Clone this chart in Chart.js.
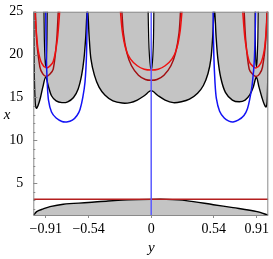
<!DOCTYPE html>
<html>
<head>
<meta charset="utf-8">
<script src="https://cdn.jsdelivr.net/npm/chart.js@4.4.1/dist/chart.umd.min.js"></script>
<style>
  body { margin: 0; background: #fff; }
</style>
</head>
<body>
<canvas id="c" width="273" height="259"></canvas>
<script>
// axis ticks
const xTicks = [-0.91, -0.54, 0, 0.54, 0.91];
const xTickLabels = ['\u22120.91', '\u22120.54', '0', '0.54', '0.91'];
const yTicks = [5, 10, 15, 20, 25];

// upper black boundary of the shaded band, [y, x] pairs
const upperBoundary = [
  [-1.013, 25.5], [-1.009, 18], [-1.0, 14.3], [-0.99, 13.75], [-0.975, 14.1], [-0.955, 15.0],
  [-0.935, 16.2], [-0.91, 17.4], [-0.885, 16.2], [-0.86, 15.2], [-0.82, 14.6], [-0.77, 14.4],
  [-0.72, 14.5], [-0.67, 15.0], [-0.63, 16.0], [-0.6, 17.6], [-0.58, 19.5], [-0.565, 22],
  [-0.55, 25.5], [-0.535, 22], [-0.52, 19.5], [-0.49, 17.6], [-0.45, 16.2], [-0.4, 15.3],
  [-0.33, 14.6], [-0.25, 14.35], [-0.18, 14.4], [-0.12, 14.7], [-0.06, 15.2], [0, 15.8],
  [0.06, 15.2], [0.12, 14.7], [0.19, 14.4], [0.26, 14.5], [0.33, 14.8], [0.4, 15.5],
  [0.45, 16.4], [0.49, 17.8], [0.515, 19.5], [0.53, 22], [0.545, 25.5], [0.56, 22],
  [0.575, 19.5], [0.6, 17.3], [0.64, 15.6], [0.7, 14.7], [0.76, 14.5], [0.81, 14.7],
  [0.85, 15.3], [0.88, 16.2], [0.907, 17.4], [0.93, 16.2], [0.955, 15.0], [0.975, 14.2],
  [0.99, 13.9], [1.0, 14.5], [1.006, 18], [1.01, 25.5]
];
// narrow unshaded slits
const slitLeft = [[-0.925, 25.5], [-0.922, 22], [-0.916, 19.5], [-0.909, 18.6], [-0.903, 19.5], [-0.899, 22], [-0.897, 25.5]];
const slitCenter = [[-0.027, 25.5], [-0.022, 22], [-0.015, 19.8], [-0.006, 18.5], [0, 18.25], [0.006, 18.5], [0.014, 19.8], [0.02, 22], [0.023, 25.5]];
const slitRight = [[0.896, 25.5], [0.898, 22], [0.902, 19.5], [0.908, 18.6], [0.914, 19.5], [0.92, 22], [0.923, 25.5]];

// lower black boundary
const lowerBoundary = [
  [-1.017, 1.23], [-0.988, 1.7], [-0.931, 2.01], [-0.873, 2.28], [-0.758, 2.56], [-0.543, 2.75],
  [-0.373, 2.94], [-0.2, 3.06], [0, 3.12], [0.13, 3.12], [0.3, 2.98], [0.536, 2.5],
  [0.706, 2.16], [0.913, 1.7], [1.01, 1.28]
];

// blue curves
const blueLeft = [
  [-0.91, 25.5], [-0.905, 20], [-0.896, 16.5], [-0.886, 14.7], [-0.86, 13.3], [-0.82, 12.6],
  [-0.77, 12.2], [-0.729, 12.15], [-0.68, 12.35], [-0.64, 12.9], [-0.614, 13.6], [-0.59, 15],
  [-0.571, 16.8], [-0.558, 20], [-0.551, 25.5]
];
const blueRight = [
  [0.533, 25.5], [0.54, 20], [0.55, 16.8], [0.562, 14.9], [0.59, 13.4], [0.63, 12.6],
  [0.67, 12.25], [0.706, 12.15], [0.75, 12.35], [0.8, 12.9], [0.83, 13.7], [0.85, 14.8],
  [0.872, 16.6], [0.89, 19.5], [0.902, 25.5]
];
const blueCenter = [[0, 1.2], [0, 25.5]];

// bright red curves
const redLeft = [
  [-1.005, 25.5], [-0.99, 22.5], [-0.975, 20.5], [-0.945, 19.0], [-0.905, 18.45],
  [-0.875, 18.65], [-0.845, 19.2], [-0.81, 21.7], [-0.787, 25.5]
];
const redCenter = [
  [-0.268, 25.5], [-0.25, 22.8], [-0.22, 20.7], [-0.18, 19.5], [-0.12, 18.7], [-0.06, 18.3],
  [0, 18.2], [0.06, 18.3], [0.12, 18.7], [0.18, 19.5], [0.22, 20.7], [0.25, 22.8], [0.268, 25.5]
];
const redRight = [
  [0.787, 25.5], [0.81, 21.7], [0.845, 19.2], [0.875, 18.65], [0.905, 18.45],
  [0.945, 19.0], [0.975, 20.5], [0.99, 22.5], [1.005, 25.5]
];

// dark red curves
const darkRedLeft = [
  [-1.0, 25.5], [-0.988, 21.7], [-0.96, 18.55], [-0.935, 17.75], [-0.905, 17.45],
  [-0.875, 17.7], [-0.845, 18.3], [-0.815, 21.7], [-0.8, 25.5]
];
const darkRedCenter = [
  [-0.255, 25.5], [-0.24, 22.5], [-0.21, 20.2], [-0.17, 18.7], [-0.11, 17.6], [-0.05, 17.1],
  [0, 17.0], [0.05, 17.1], [0.11, 17.6], [0.17, 18.7], [0.21, 20.2], [0.24, 22.5], [0.255, 25.5]
];
const darkRedRight = [
  [0.8, 25.5], [0.815, 21.7], [0.845, 18.3], [0.875, 17.7], [0.905, 17.45],
  [0.935, 17.75], [0.96, 18.55], [0.988, 21.7], [1.0, 25.5]
];

// horizontal line
const piLine = [[-1.017, 3.14], [1.01, 3.14]];

const GRAY = '#c4c4c4';
const AXIS = '#8a8a8a';

const pts = arr => arr.map(p => ({ x: p[0], y: p[1] }));

function curve(data, color, width, order, extra) {
  return Object.assign({
    data: pts(data),
    showLine: true,
    borderColor: color,
    borderWidth: width,
    pointRadius: 0,
    tension: 0.3,
    fill: false,
    order: order
  }, extra || {});
}

const boxPlugin = {
  id: 'box',
  afterDatasetsDraw(chart) {
    const { ctx, chartArea: a, scales: { y } } = chart;
    ctx.save();
    ctx.strokeStyle = AXIS;
    ctx.lineWidth = 1;
    ctx.strokeRect(a.left + 0.5, a.top + 0.5, a.right - a.left - 1, a.bottom - a.top);
    // inward ticks on the left axis
    for (let v = 2; v <= 25; v++) {
      const py = Math.round(y.getPixelForValue(v)) + 0.5;
      const len = v % 5 === 0 ? 4 : 2;
      ctx.beginPath();
      ctx.moveTo(a.left, py);
      ctx.lineTo(a.left + len, py);
      ctx.stroke();
    }
    ctx.restore();
  },
  afterDraw(chart) {
    const { ctx, chartArea: a, scales: { x, y } } = chart;
    ctx.save();
    ctx.fillStyle = '#000';
    ctx.font = 'italic 15px "Liberation Serif"';
    ctx.textAlign = 'center';
    ctx.textBaseline = 'middle';
    ctx.fillText('x', 7, y.getPixelForValue(13));
    ctx.fillText('y', x.getPixelForValue(0), a.bottom + 33);
    ctx.restore();
  }
};

new Chart(document.getElementById('c'), {
  type: 'scatter',
  data: {
    datasets: [
      curve(upperBoundary, '#000', 1.4, 20, { fill: 'end', backgroundColor: GRAY }),
      curve(lowerBoundary, '#000', 1.4, 20, { fill: 'start', backgroundColor: GRAY }),
      curve(slitLeft, '#000', 1.2, 15, { fill: 'end', backgroundColor: '#fff', tension: 0.2 }),
      curve(slitCenter, '#000', 1.2, 15, { fill: 'end', backgroundColor: '#fff', tension: 0.2 }),
      curve(slitRight, '#000', 1.2, 15, { fill: 'end', backgroundColor: '#fff', tension: 0.2 }),
      curve(piLine, '#b41e1e', 1.4, 6, { tension: 0 }),
      curve(darkRedLeft, '#a30f12', 1.5, 4),
      curve(darkRedCenter, '#a30f12', 1.5, 4),
      curve(darkRedRight, '#a30f12', 1.5, 4),
      curve(redLeft, '#f01010', 1.5, 3),
      curve(redCenter, '#f01010', 1.5, 3),
      curve(redRight, '#f01010', 1.5, 3),
      curve(blueLeft, '#1414f5', 1.5, 2),
      curve(blueRight, '#1414f5', 1.5, 2),
      curve(blueCenter, '#5a5aff', 1.5, 1, { tension: 0 })
    ]
  },
  options: {
    responsive: false,
    animation: false,
    events: [],
    layout: { padding: { top: 11.7, right: 4.7, left: 0, bottom: 0 } },
    plugins: {
      legend: { display: false },
      tooltip: { enabled: false },
      filler: { propagate: false }
    },
    scales: {
      x: {
        type: 'linear',
        min: -1.017,
        max: 1.01,
        afterBuildTicks: s => { s.ticks = xTicks.map(v => ({ value: v })); },
        afterFit: s => { s.height = 44; },
        border: { display: false },
        grid: { drawOnChartArea: false, drawTicks: true, tickLength: 3, color: AXIS },
        ticks: {
          autoSkip: false,
          maxRotation: 0,
          padding: 3,
          color: '#000',
          font: { family: 'Liberation Serif', size: 14 },
          callback: (v, i) => xTickLabels[i]
        }
      },
      y: {
        type: 'linear',
        min: 1.3,
        max: 25,
        afterBuildTicks: s => { s.ticks = yTicks.map(v => ({ value: v })); },
        afterFit: s => { s.width = 33.3; },
        border: { display: false },
        grid: { display: false },
        ticks: {
          padding: 2,
          color: '#000',
          font: { family: 'Liberation Serif', size: 14 }
        }
      }
    }
  },
  plugins: [boxPlugin]
});
</script>
</body>
</html>
